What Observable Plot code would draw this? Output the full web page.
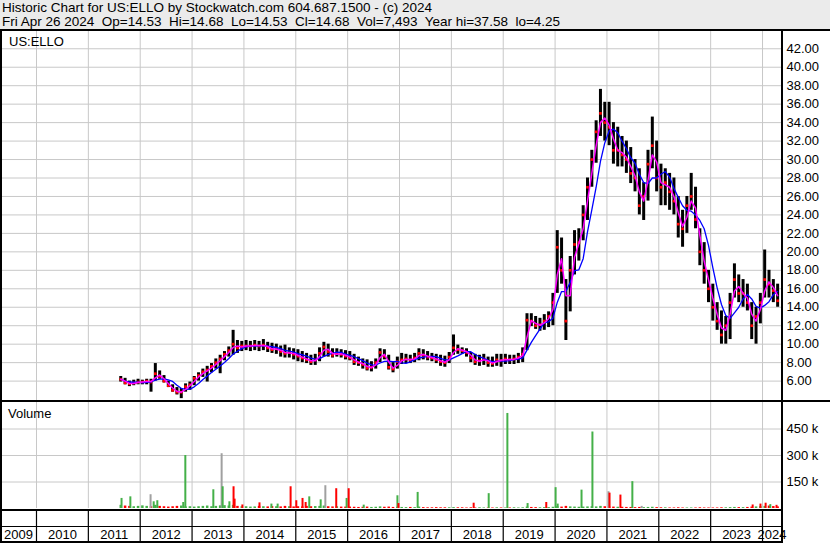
<!DOCTYPE html>
<html>
<head>
<meta charset="utf-8">
<script src="https://cdn.jsdelivr.net/npm/d3@7"></script>
<script src="https://cdn.jsdelivr.net/npm/@observablehq/plot@0.6"></script>
<style>
  html, body { margin: 0; padding: 0; background: #fff; }
  body { width: 830px; height: 543px; position: relative; overflow: hidden;
         font-family: "Liberation Sans", Arial, sans-serif; color: #000; }
  .abs { position: absolute; }
  #header { left: 0; top: 0; width: 830px; height: 29px; background: #ebebeb;
            font-size: 13.5px; line-height: 14px; white-space: pre; padding-top: 1px; box-sizing: border-box; }
  #header div { padding-left: 2px; }
  .lbl { font-size: 13px; line-height: 15px; white-space: pre; }
  .blk { background: #000; }
</style>
</head>
<body>
<div id="header" class="abs"><div id="h1"></div><div id="h2"></div></div>
<div id="price" class="abs" style="left:0;top:31px"></div>
<div id="vol" class="abs" style="left:0;top:402px"></div>
<div id="years" class="abs" style="left:0;top:511px"></div>
<div id="tickerLbl" class="abs lbl" style="left:9px;top:34px"></div>
<div id="volLbl" class="abs lbl" style="left:8px;top:406px"></div>
<!-- frame lines -->
<div class="abs blk" style="left:0;top:29px;width:830px;height:2px"></div>
<div class="abs blk" style="left:0;top:400px;width:830px;height:2px"></div>
<div class="abs blk" style="left:0;top:509px;width:783px;height:2px"></div>
<div class="abs blk" style="left:0;top:526px;width:783px;height:1px"></div>
<div class="abs blk" style="left:0;top:541px;width:783px;height:2px"></div>
<div class="abs blk" style="left:0;top:29px;width:2px;height:514px"></div>
<div class="abs blk" style="left:781px;top:29px;width:2px;height:514px"></div>
<script>
// ---------------- texts ----------------
const titleLine = "Historic Chart for US:ELLO by Stockwatch.com 604.687.1500 - (c) 2024";
const infoLine = "Fri Apr 26 2024  Op=14.53  Hi=14.68  Lo=14.53  Cl=14.68  Vol=7,493  Year hi=37.58  lo=4.25";
const ticker = "US:ELLO";
const volumeTitle = "Volume";

// ---------------- monthly price data (Aug 2011 .. Apr 2024) ----------------
const lows = [
  5.9, 5.6, 5.4, 5.5, 5.6,
  5.6, 5.6, 4.8, 6.0, 6.2, 5.8, 5.3, 4.8, 4.5, 4.1, 4.8, 5.0,
  5.5, 6.0, 6.4, 5.9, 6.9, 7.3, 6.8, 8.2, 8.6, 8.8, 9.0, 9.2,
  9.3, 9.2, 9.3, 9.2, 9.3, 9.1, 9.0, 8.9, 8.6, 8.5, 8.5, 8.3,
  8.1, 8.0, 7.9, 7.7, 7.7, 8.1, 8.6, 8.6, 8.5, 8.6, 8.5, 8.3,
  8.2, 7.7, 7.6, 7.3, 7.1, 7.0, 7.3, 8.0, 8.3, 7.2, 6.9, 7.3,
  7.8, 7.9, 7.9, 8.0, 8.2, 8.3, 8.2, 8.1, 7.9, 7.6, 7.5, 7.9,
  8.8, 8.9, 8.9, 8.6, 8.0, 7.7, 7.6, 7.7, 7.5, 7.5, 7.6, 7.5,
  7.8, 7.8, 7.8, 7.9, 8.0, 9.3, 11.9, 11.6, 11.4, 11.5, 11.8, 12.0,
  15.5, 16.5, 10.4, 13.5, 17.5, 19.0, 21.2, 23.4, 27.0, 29.6, 32.5, 32.0,
  31.5, 29.5, 29.2, 29.2, 28.5, 27.4, 26.5, 24.0, 23.4, 25.5, 29.0, 26.5,
  25.0, 25.0, 24.5, 24.0, 21.5, 20.5, 22.0, 24.5, 22.5, 18.5, 16.5, 14.5,
  12.5, 11.5, 10.0, 10.0, 10.5, 15.0, 14.5, 14.0, 13.6, 10.5, 10.0, 12.2,
  15.0, 15.0, 14.5, 14.0
];
const highs = [
  6.5, 6.3, 6.0, 6.1, 6.2,
  6.1, 6.2, 6.2, 7.9, 7.1, 6.6, 6.0, 5.6, 5.3, 5.2, 5.7, 5.9,
  6.5, 6.9, 7.3, 7.6, 7.9, 8.4, 8.8, 9.2, 9.7, 11.5, 10.4, 10.3,
  10.4, 10.3, 10.4, 10.3, 10.5, 10.2, 10.1, 10.0, 9.8, 9.9, 9.6, 9.5,
  9.4, 9.2, 9.0, 8.8, 8.9, 9.6, 10.2, 10.0, 9.5, 9.5, 9.4, 9.3,
  9.2, 8.9, 8.6, 8.4, 8.3, 8.1, 8.4, 9.5, 9.4, 8.8, 8.0, 8.6,
  9.0, 8.9, 8.8, 9.0, 9.5, 9.4, 9.2, 9.0, 8.9, 8.8, 8.7, 9.1,
  11.0, 9.9, 9.6, 9.5, 9.1, 8.9, 8.8, 8.9, 8.6, 8.6, 8.9, 8.9,
  8.9, 8.8, 8.8, 9.0, 9.6, 13.3, 13.3, 13.0, 12.8, 13.2, 13.5, 15.5,
  22.3, 21.5, 17.0, 19.5, 22.3, 22.5, 25.0, 28.0, 31.0, 34.2, 37.6, 36.2,
  36.2, 34.0, 33.5, 32.5, 32.0, 31.3, 30.0, 29.0, 27.5, 31.0, 34.6, 32.0,
  29.5, 29.0, 28.5, 28.0, 26.0, 24.5, 26.0, 28.5, 27.0, 22.5, 21.0, 18.0,
  16.5, 14.5, 13.6, 13.0, 15.5, 18.7, 17.5, 17.0, 16.5, 14.5, 14.0, 15.5,
  20.2, 18.0, 17.0, 16.5
];
const closes = [
  6.2, 5.8, 5.7, 5.8, 5.9,
  5.9, 6.0, 5.9, 6.8, 6.5, 6.0, 5.5, 5.0, 4.8, 4.8, 5.4, 5.6,
  6.3, 6.6, 7.0, 7.2, 7.6, 8.0, 8.4, 8.9, 9.3, 10.0, 9.6, 9.8,
  9.8, 9.8, 9.9, 9.8, 9.9, 9.6, 9.4, 9.5, 9.2, 9.0, 9.1, 8.9,
  8.7, 8.5, 8.3, 8.1, 8.3, 9.0, 9.7, 9.2, 8.8, 9.0, 8.9, 8.7,
  8.5, 8.1, 8.0, 7.8, 7.4, 7.5, 8.0, 9.1, 8.7, 7.5, 7.3, 8.1,
  8.3, 8.4, 8.3, 8.5, 9.0, 8.8, 8.6, 8.5, 8.3, 8.1, 8.0, 8.6,
  9.6, 9.4, 9.3, 9.1, 8.5, 8.1, 8.2, 8.4, 8.0, 7.9, 8.3, 8.2,
  8.4, 8.3, 8.4, 8.6, 8.9, 12.6, 12.5, 12.0, 12.1, 12.5, 13.0, 14.5,
  20.5, 18.0, 12.5, 18.0, 20.8, 21.0, 24.0, 27.0, 30.0, 33.0, 35.0, 34.0,
  33.5, 31.0, 31.0, 30.5, 30.0, 28.5, 28.0, 25.0, 26.0, 29.5, 31.5, 28.0,
  27.0, 27.5, 26.5, 25.5, 23.0, 22.5, 25.0, 26.0, 23.5, 20.0, 18.0, 16.0,
  14.0, 12.5, 11.0, 12.0, 14.5, 17.0, 15.5, 15.5, 14.5, 12.0, 13.0, 14.5,
  17.0, 16.5, 15.8, 14.7
];
// typical monthly base volume (thousands)
const volBaseK = [
  18, 14, 12, 10, 12,
  15, 12, 10, 18, 12, 10, 8, 10, 12, 14, 9, 10,
  8, 10, 12, 14, 10, 12, 15, 16, 14, 18, 12, 10,
  10, 8, 9, 12, 10, 9, 11, 10, 9, 12, 10, 9,
  10, 9, 12, 10, 11, 12, 14, 10, 9, 10, 8, 8,
  8, 7, 6, 7, 8, 6, 7, 9, 7, 8, 6, 7,
  6, 5, 6, 5, 8, 5, 4, 4, 5, 4, 4, 4,
  5, 4, 4, 3, 4, 3, 4, 3, 3, 3, 4, 3,
  3, 3, 4, 3, 4, 8, 6, 5, 4, 5, 5, 7,
  10, 8, 12, 9, 8, 7, 8, 9, 10, 9, 12, 10,
  9, 8, 7, 7, 6, 6, 5, 6, 5, 6, 7, 5,
  4, 4, 3, 3, 4, 3, 3, 3, 3, 4, 3, 3,
  3, 3, 4, 4, 5, 6, 5, 5, 6, 8, 9, 10,
  12, 14, 11, 9
];
// large individual volume days
const spikeYear = [2011.64, 2011.81, 2012.20, 2012.26, 2012.33, 2012.83, 2012.87, 2013.41, 2013.57, 2013.59,
  2013.72, 2013.80, 2013.82, 2013.97, 2014.30, 2014.53, 2014.65, 2014.90, 2015.01, 2015.13,
  2015.19, 2015.26, 2015.48, 2015.57, 2015.78, 2015.98, 2016.02, 2016.31, 2016.96, 2016.98,
  2017.35, 2018.43, 2018.72, 2019.08, 2019.47, 2019.83, 2020.01, 2020.05, 2020.51, 2020.72,
  2021.03, 2021.05, 2021.26, 2021.49, 2021.67, 2023.81, 2023.96, 2024.06, 2024.15, 2024.27];
const spikeVolK = [57, 66, 78, 38, 44, 34, 300, 106, 310, 123,
  38, 123, 53, 20, 32, 25, 25, 123, 44, 57,
  34, 66, 49, 129, 112, 57, 112, 19, 72, 28,
  91, 30, 84, 538, 28, 34, 118, 25, 104, 433,
  95, 87, 76, 152, 12, 20, 25, 30, 22, 18];
const spikeKind = ["up","up","flat","up","up","up","up","up","flat","up",
  "up","down","down","down","down","up","up","down","down","down",
  "down","up","up","flat","down","up","down","up","up","down",
  "up","down","up","up","up","down","up","up","up","up",
  "flat","down","down","up","flat","down","down","down","up","down"];

const priceTicks = [6, 8, 10, 12, 14, 16, 18, 20, 22, 24, 26, 28, 30, 32, 34, 36, 38, 40, 42];
const volTicks = [150000, 300000, 450000];
const yearList = [2009, 2010, 2011, 2012, 2013, 2014, 2015, 2016, 2017, 2018, 2019, 2020, 2021, 2022, 2023, 2024];

// ---------------- build ----------------
document.getElementById("h1").textContent = titleLine;
document.getElementById("h2").textContent = infoLine;
document.getElementById("tickerLbl").textContent = ticker;
document.getElementById("volLbl").textContent = volumeTitle;

const xDomain = [2009.306, 2024.366];
const months = d3.utcMonth.range(new Date(Date.UTC(2011, 7, 1)), new Date(Date.UTC(2024, 4, 1)));
const bars = months.map((m, i) => ({
  t: m.getUTCFullYear() + (m.getUTCMonth() + 0.5) / 12,
  lo: lows[i], hi: highs[i], cl: closes[i],
  vol: volBaseK[i] * 1000,
  up: i === 0 || closes[i] >= closes[i - 1]
}));
const colorOf = {up: "#44b048", down: "#ff0000", flat: "#a0a0a0"};
const spikes = spikeYear.map((t, i) => ({t, vol: spikeVolK[i] * 1000, c: colorOf[spikeKind[i]]}));
const yearBounds = yearList.slice(1);
const yearLabels = yearList.map(y => ({label: String(y), c: (Math.max(y, xDomain[0]) + Math.min(y + 1, xDomain[1])) / 2}));

const font = "'Liberation Sans', Arial, sans-serif";
const grid = "#c8c8c8";

const pricePlot = Plot.plot({
  width: 830, height: 370,
  marginLeft: 0, marginRight: 49, marginTop: 0, marginBottom: 0,
  style: {fontFamily: font, fontSize: "13px", background: "white", color: "#000", overflow: "visible"},
  x: {domain: xDomain, axis: null},
  y: {domain: [3.79, 43.87], axis: "right", ticks: priceTicks, tickFormat: d => d.toFixed(2),
      tickSize: 0, tickPadding: 5, label: null},
  marks: [
    Plot.ruleY(priceTicks, {stroke: grid, strokeWidth: 1}),
    Plot.ruleX(yearBounds, {stroke: grid, strokeWidth: 1}),
    Plot.ruleX(bars, {x: "t", y1: "lo", y2: "hi", stroke: "#000", strokeWidth: 3}),
    Plot.dot(bars, {x: "t", y: "cl", symbol: "square", r: 1.5, fill: "#ff0000", stroke: null}),
    Plot.line(bars, Plot.windowY({k: 5, anchor: "end"}, {x: "t", y: "cl", stroke: "#0000ff", strokeWidth: 1.3})),
    Plot.line(bars, Plot.windowY({k: 2, anchor: "end"}, {x: "t", y: "cl", stroke: "#ff00ff", strokeWidth: 1.5}))
  ]
});
document.getElementById("price").append(pricePlot);

const volPlot = Plot.plot({
  width: 830, height: 108,
  marginLeft: 0, marginRight: 49, marginTop: 0, marginBottom: 2,
  style: {fontFamily: font, fontSize: "13px", background: "white", color: "#000", overflow: "visible"},
  color: {type: "identity"},
  x: {domain: xDomain, axis: null},
  y: {domain: [0, 600000], axis: "right", ticks: volTicks, tickFormat: d => (d / 1000) + " k",
      tickSize: 0, tickPadding: 5, label: null},
  marks: [
    Plot.ruleY(volTicks, {stroke: grid, strokeWidth: 1}),
    Plot.ruleX(yearBounds, {stroke: grid, strokeWidth: 1}),
    Plot.ruleX(bars, {x: "t", y1: 0, y2: "vol", stroke: d => d.up ? colorOf.up : colorOf.down, strokeWidth: 2.5}),
    Plot.ruleX(spikes, {x: "t", y1: 0, y2: "vol", stroke: "c", strokeWidth: 2})
  ]
});
document.getElementById("vol").append(volPlot);

const yearPlot = Plot.plot({
  width: 830, height: 32,
  marginLeft: 0, marginRight: 49, marginTop: 0, marginBottom: 0,
  style: {fontFamily: font, fontSize: "13px", background: "white", color: "#000", overflow: "visible"},
  x: {domain: xDomain, axis: null},
  y: {domain: [0, 32], range: [0, 32], axis: null},
  marks: [
    Plot.ruleX(yearBounds, {stroke: "#000", strokeWidth: 1.2}),
    Plot.text(yearLabels, {x: "c", y: () => 23.5, text: "label", fontSize: 13, fill: "#000"})
  ]
});
document.getElementById("years").append(yearPlot);
</script>
</body>
</html>
